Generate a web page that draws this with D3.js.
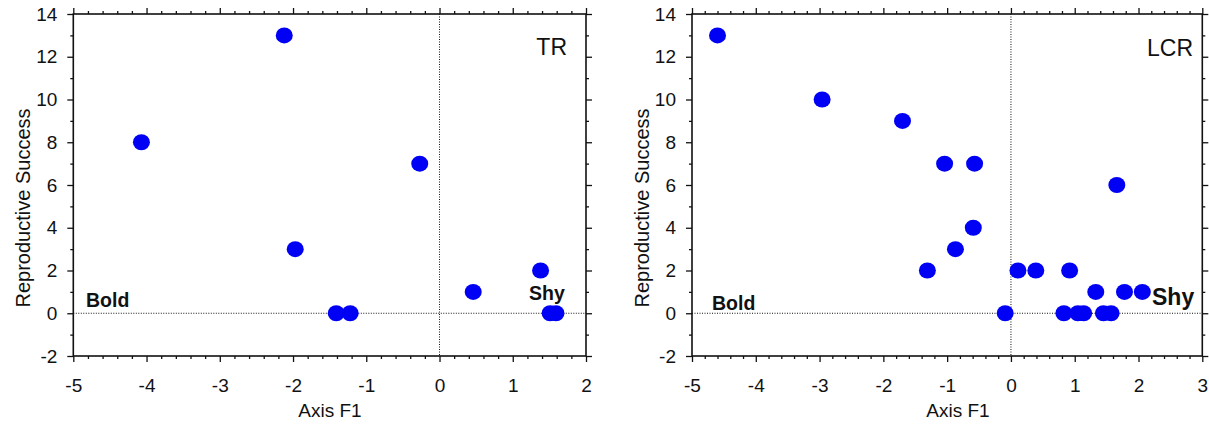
<!DOCTYPE html>
<html><head><meta charset="utf-8">
<script src="https://cdn.jsdelivr.net/npm/d3@7"></script>
<style>
body{margin:0;background:#fff}
svg{display:block}
text{font-family:"Liberation Sans",Arial,Helvetica,sans-serif;fill:#111}
</style>
</head><body>
<svg id="chart" width="1209" height="424"></svg>
<script>
// ---- data ----
const trF1  = [-2.12, -4.07, -0.27, -1.97, -1.41, -1.22, 0.46, 1.38, 1.51, 1.59];
const trRS  = [13, 8, 7, 3, 0, 0, 1, 2, 0, 0];
const lcrF1 = [-4.60, -2.96, -1.70, -1.04, -0.57, 1.66, -0.59, -0.87, -1.31, 0.11, 0.39, 0.92, 1.33, 1.78, 2.06, -0.09, 0.83, 1.05, 1.14, 1.45, 1.57];
const lcrRS = [13, 10, 9, 7, 7, 6, 4, 3, 2, 2, 2, 2, 1, 1, 1, 0, 0, 0, 0, 0, 0];
const yTicks = [-2, 0, 2, 4, 6, 8, 10, 12, 14];
const trXTicks = [-5, -4, -3, -2, -1, 0, 1, 2];
const lcrXTicks = [-5, -4, -3, -2, -1, 0, 1, 2, 3];
const panelNames = ["TR", "LCR"];
const xTitle = "Axis F1";
const yTitle = "Reproductive Success";

const svg = d3.select("#chart");
const fmt = d => String(d);  // plain hyphen minus as in the original

function minorVals(lo, hi, step, majors) {
  const out = [];
  const n = Math.round((hi - lo) / step);
  for (let i = 0; i <= n; i++) {
    const v = +(lo + i * step).toFixed(4);
    if (!majors.some(m => Math.abs(m - v) < 1e-6)) out.push(v);
  }
  return out;
}

function drawPanel(cfg) {
  const g = svg.append("g");
  const x = d3.scaleLinear().domain(cfg.xDomain).range(cfg.xRange);
  const y = d3.scaleLinear().domain([-2, 14]).range([356, 14]);
  const [x0, x1] = cfg.xRange, y0 = 356, y1 = 14;

  const xMinor = minorVals(cfg.xDomain[0], cfg.xDomain[1], 0.2, cfg.xTicks);
  const yMinor = minorVals(-2, 14, 1, yTicks);

  const style = sel => {
    sel.select(".domain").remove();
    sel.selectAll("line").attr("stroke", "#111").attr("stroke-width", 1.3);
  };
  const lbl = sel => sel.selectAll("text").attr("font-size", 19).attr("fill", "#111")
    .attr("font-family", '"Liberation Sans",Arial,sans-serif');

  // bottom axis
  g.append("g").attr("transform", `translate(0,${y0})`)
    .call(d3.axisBottom(x).tickValues(cfg.xTicks).tickSize(6).tickPadding(17).tickFormat(fmt))
    .call(style).call(lbl);
  g.append("g").attr("transform", `translate(0,${y0})`)
    .call(d3.axisBottom(x).tickValues(xMinor).tickSize(3).tickFormat(""))
    .call(style);
  // top axis
  g.append("g").attr("transform", `translate(0,${y1})`)
    .call(d3.axisTop(x).tickValues(cfg.xTicks).tickSize(6).tickFormat(""))
    .call(style);
  g.append("g").attr("transform", `translate(0,${y1})`)
    .call(d3.axisTop(x).tickValues(xMinor).tickSize(3).tickFormat(""))
    .call(style);
  // left axis
  g.append("g").attr("transform", `translate(${x0},0)`)
    .call(d3.axisLeft(y).tickValues(yTicks).tickSize(6).tickPadding(10).tickFormat(fmt))
    .call(style).call(lbl);
  g.append("g").attr("transform", `translate(${x0},0)`)
    .call(d3.axisLeft(y).tickValues(yMinor).tickSize(3).tickFormat(""))
    .call(style);
  // right axis
  g.append("g").attr("transform", `translate(${x1},0)`)
    .call(d3.axisRight(y).tickValues(yTicks).tickSize(6).tickFormat(""))
    .call(style);
  g.append("g").attr("transform", `translate(${x1},0)`)
    .call(d3.axisRight(y).tickValues(yMinor).tickSize(3).tickFormat(""))
    .call(style);

  // frame
  g.append("rect").attr("x", x0).attr("y", y1).attr("width", x1 - x0).attr("height", y0 - y1)
    .attr("fill", "none").attr("stroke", "#111").attr("stroke-width", 1.6);

  // dotted reference lines
  g.append("line").attr("x1", x0).attr("x2", x1).attr("y1", y(0)).attr("y2", y(0))
    .attr("stroke", "#111").attr("stroke-width", 1).attr("stroke-dasharray", "1,1.5");
  g.append("line").attr("x1", x(0)).attr("x2", x(0)).attr("y1", y1).attr("y2", y0)
    .attr("stroke", "#111").attr("stroke-width", 1).attr("stroke-dasharray", "1,1.5");

  // points
  g.append("g").selectAll("ellipse").data(cfg.f1.map((v, i) => [v, cfg.rs[i]]))
    .join("ellipse")
    .attr("cx", d => x(d[0])).attr("cy", d => y(d[1])).attr("rx", 8.5).attr("ry", 8)
    .attr("fill", "#0000f5");

  // panel name
  g.append("text").attr("x", cfg.nameX).attr("y", cfg.nameY).attr("text-anchor", "end")
    .attr("font-size", 23).text(cfg.name);

  // Bold / Shy annotations
  g.append("text").attr("x", cfg.boldX).attr("y", cfg.boldY).attr("font-size", 19.5)
    .attr("font-weight", "bold").text("Bold");
  g.append("text").attr("x", cfg.shyX).attr("y", cfg.shyY).attr("font-size", cfg.shySize)
    .attr("font-weight", "bold").text("Shy");

  // axis titles
  g.append("text").attr("x", cfg.xTitleX).attr("y", 417).attr("text-anchor", "middle")
    .attr("font-size", 19).text(xTitle);
  g.append("text").attr("transform", `translate(${cfg.yTitleX},208) rotate(-90)`)
    .attr("text-anchor", "middle").attr("font-size", 20).text(yTitle);
}

drawPanel({
  name: panelNames[0], xDomain: [-5, 2], xRange: [73.3, 586], xTicks: trXTicks,
  f1: trF1, rs: trRS,
  nameX: 567, nameY: 55,
  boldX: 86, boldY: 307, shyX: 529, shyY: 300, shySize: 19.5,
  xTitleX: 330, yTitleX: 30
});
drawPanel({
  name: panelNames[1], xDomain: [-5, 3], xRange: [692, 1202.3], xTicks: lcrXTicks,
  f1: lcrF1, rs: lcrRS,
  nameX: 1193, nameY: 56,
  boldX: 712, boldY: 310, shyX: 1152, shyY: 305, shySize: 23,
  xTitleX: 958, yTitleX: 649
});
</script>
</body></html>
